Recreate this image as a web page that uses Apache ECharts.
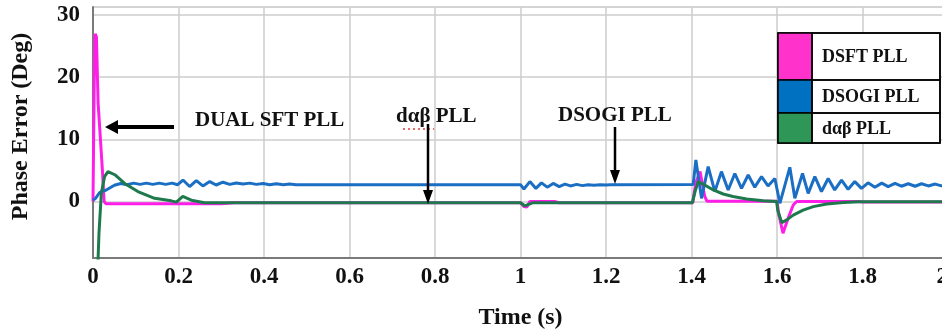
<!DOCTYPE html>
<html lang="en">
<head>
    <meta charset="UTF-8" />
    <title>Phase Error</title>
    <script src="https://cdn.jsdelivr.net/npm/echarts@6/dist/echarts.min.js"></script>
    <style>
        html, body { margin: 0; padding: 0; background: #fff; }
        #chart { width: 942px; height: 332px; }
    </style>
</head>
<body>
<div id="chart"></div>
<script type="text/javascript">
    // series names
    const seriesNames = ['DSFT PLL', 'DSOGI PLL', 'd\u03b1\u03b2 PLL'];
    const seriesColors = ['#ff1ee8', '#1a6fc4', '#1e7a4c'];
    const legendColors = ['#ff33cc', '#0070c0', '#2e9656'];
    const yTicks = [0, 10, 20, 30];

    // [time (s), phase error (deg)]
    const dsftPll = [
        [0, 0], [0.003, 20], [0.005, 27], [0.008, 26.5], [0.012, 15.8], [0.016, 11.5],
        [0.022, 5], [0.026, 0], [0.03, -0.35], [0.3, -0.35], [0.33, -0.2],
        [1.0, -0.2], [1.008, -0.8], [1.015, -0.9], [1.022, 0], [1.08, 0], [1.09, -0.2],
        [1.403, -0.2], [1.41, 3], [1.42, 4.8], [1.431, 0.8], [1.436, 0.05], [1.6, 0.05],
        [1.604, -2], [1.614, -5.1], [1.626, -2.7], [1.638, -0.56], [1.646, 0],
        [1.79, 0], [1.8, -0.1], [2, -0.1]
    ];
    const dsogiPll = [
        [0, 0.2], [0.006, 0.5], [0.015, 1.4], [0.02, 1.6], [0.03, 1.8], [0.04, 2.2], [0.05, 2.6], [0.065, 2.9],
        [0.08, 2.7], [0.095, 2.95], [0.11, 2.75], [0.125, 2.95], [0.14, 2.75], [0.155, 2.95], [0.17, 2.75],
        [0.185, 2.95], [0.198, 2.7],
        [0.2105, 3.45], [0.226, 2.4], [0.2416, 3.35], [0.257, 2.5], [0.273, 3.2], [0.288, 2.65], [0.304, 3.1],
        [0.32, 2.75], [0.335, 2.97], [0.351, 2.8], [0.367, 2.95], [0.382, 2.75], [0.398, 2.9], [0.413, 2.7],
        [0.429, 2.85], [0.445, 2.7], [0.46, 2.8], [0.475, 2.7],
        [1.0, 2.7], [1.008, 2.0], [1.022, 3.2], [1.036, 2.1], [1.049, 3.0], [1.0625, 2.3], [1.0765, 2.9],
        [1.0905, 2.4], [1.104, 2.8], [1.117, 2.5], [1.131, 2.75], [1.145, 2.55], [1.158, 2.7], [1.172, 2.6],
        [1.186, 2.7], [1.2, 2.65], [1.21, 2.7],
        [1.404, 2.75], [1.4102, 6.67], [1.4235, 0.5], [1.439, 5.6], [1.4546, 1.6], [1.47, 4.8], [1.4858, 1.85],
        [1.5014, 4.5], [1.517, 2.1], [1.5326, 4.26], [1.548, 2.3], [1.5638, 4.0], [1.579, 2.5], [1.595, 3.7],
        [1.6067, -0.3], [1.63, 5.5], [1.6417, 0.5], [1.6597, 4.5], [1.673, 1.3], [1.6885, 4.0], [1.704, 1.6],
        [1.7197, 3.7], [1.735, 1.85], [1.751, 3.45], [1.7664, 1.96], [1.782, 3.2], [1.7977, 2.1],
        [1.813, 3.0], [1.829, 2.3], [1.845, 2.95], [1.86, 2.4], [1.876, 2.9], [1.891, 2.45], [1.907, 2.85],
        [1.923, 2.45], [1.938, 2.85], [1.954, 2.5], [1.97, 2.8], [1.985, 2.5], [2.0, 2.8]
    ];
    const dabPll = [
        [0.01, -20], [0.012, -9], [0.014, -5.1], [0.0195, 1.3], [0.027, 4.0], [0.035, 4.8], [0.051, 4.3],
        [0.074, 2.9], [0.105, 1.6], [0.144, 0.5], [0.183, 0.1], [0.195, -0.1], [0.21, 0.8], [0.23, 0.2],
        [0.261, -0.2], [1.0, -0.2], [1.01, -0.7], [1.022, -0.4], [1.03, -0.2],
        [1.402, -0.2], [1.408, 1.5], [1.4155, 3.2], [1.431, 2.65], [1.451, 1.85], [1.474, 1.2], [1.497, 0.8],
        [1.529, 0.4], [1.568, 0.13], [1.599, 0], [1.602, -1.5], [1.611, -3.4], [1.622, -3.0], [1.638, -2.2],
        [1.661, -1.4], [1.685, -0.83], [1.716, -0.4], [1.755, -0.15], [1.794, -0.05], [2, -0.05]
    ];

    const serif = "'Liberation Serif', 'Times New Roman', serif";
    const dark = '#111';

    let chart = echarts.init(document.getElementById('chart'), null, { renderer: 'canvas' });

    function txt(text, x, y, size) {
        return {
            type: 'text', x: x, y: y, z: 100,
            style: {
                text: text, fill: dark, font: 'bold ' + size + 'px ' + serif,
                align: 'left', verticalAlign: 'middle', textAlign: 'left', textVerticalAlign: 'middle'
            }
        };
    }
    function seg(x1, y1, x2, y2, w) {
        return { type: 'line', z: 100, shape: { x1: x1, y1: y1, x2: x2, y2: y2 }, style: { stroke: '#000', lineWidth: w } };
    }
    function head(points) {
        return { type: 'polygon', z: 100, shape: { points: points }, style: { fill: '#000' } };
    }

    // legend box, drawn as a table like the original
    const legendRows = [[33, 47], [80, 33], [113, 30]];
    let graphics = [];
    graphics.push({ type: 'rect', z: 99, shape: { x: 778, y: 33, width: 162, height: 110 }, style: { fill: '#fff', stroke: '#000', lineWidth: 1.5 } });
    legendRows.forEach(function (r, i) {
        graphics.push({ type: 'rect', z: 100, shape: { x: 778, y: r[0], width: 34, height: r[1] }, style: { fill: legendColors[i], stroke: '#000', lineWidth: 1.5 } });
        graphics.push({ type: 'rect', z: 100, shape: { x: 812, y: r[0], width: 128, height: r[1] }, style: { fill: 'none', stroke: '#000', lineWidth: 1.5 } });
        graphics.push(txt(seriesNames[i], 822, r[0] + r[1] / 2 + 1, 18));
    });

    // annotations
    graphics.push(txt('DUAL SFT PLL', 195, 121, 21));
    graphics.push(seg(117, 127, 174, 127, 4));
    graphics.push(head([[105, 127], [118, 120], [118, 134]]));

    graphics.push(txt('d\u03b1\u03b2 PLL', 396, 117, 21));
    graphics.push({ type: 'line', z: 100, shape: { x1: 403, y1: 129, x2: 434, y2: 129 }, style: { stroke: '#e03a3a', lineWidth: 1.5, lineDash: [2, 3] } });
    graphics.push(seg(428, 124, 428, 192, 2.5));
    graphics.push(head([[428, 204], [423, 190], [433, 190]]));

    graphics.push(txt('DSOGI PLL', 558, 116, 21));
    graphics.push(seg(615, 127, 615, 172, 2.5));
    graphics.push(head([[615, 184], [610, 170], [620, 170]]));

    const datasets = [dsftPll, dsogiPll, dabPll];
    const drawOrder = [0, 1, 2];

    let option = {
        animation: false,
        backgroundColor: '#fff',
        grid: {
            left: 93, top: 7, width: 855, height: 251,
            outerBoundsMode: 'none', containLabel: false,
            show: true, borderColor: '#a8a8a8', borderWidth: 1
        },
        xAxis: {
            type: 'value', min: 0, max: 2, interval: 0.2,
            name: 'Time (s)', nameLocation: 'middle', nameGap: 48,
            nameTextStyle: { fontFamily: serif, fontWeight: 'bold', fontSize: 24, color: dark },
            axisLine: { onZero: false, lineStyle: { color: '#7a7a7a', width: 2 } },
            axisTick: { show: false },
            axisLabel: {
                fontFamily: serif, fontWeight: 'bold', fontSize: 23, color: dark, margin: 8,
                showMaxLabel: true, alignMaxLabel: 'right', hideOverlap: false
            },
            splitLine: { lineStyle: { color: '#cdcdcd', width: 1.5 } }
        },
        yAxis: {
            type: 'value', min: -9.1, max: 31.3,
            name: 'Phase Error (Deg)', nameLocation: 'middle', nameGap: 60,
            nameTextStyle: { fontFamily: serif, fontWeight: 'bold', fontSize: 24, color: dark, padding: [0, 0, 0, 12] },
            axisLine: { lineStyle: { color: '#7a7a7a', width: 2 } },
            axisTick: { show: false, customValues: yTicks },
            axisLabel: { customValues: yTicks, fontFamily: serif, fontWeight: 'bold', fontSize: 23, color: dark, margin: 13 },
            splitLine: { lineStyle: { color: '#cdcdcd', width: 1.5 } }
        },
        series: drawOrder.map(function (i) {
            return {
                name: seriesNames[i], type: 'line', data: datasets[i],
                showSymbol: false, symbol: 'none', clip: true,
                lineStyle: { color: seriesColors[i], width: 3 },
                itemStyle: { color: seriesColors[i] }
            };
        }),
        graphic: graphics
    };
    chart.setOption(option);
</script>
</body>
</html>
